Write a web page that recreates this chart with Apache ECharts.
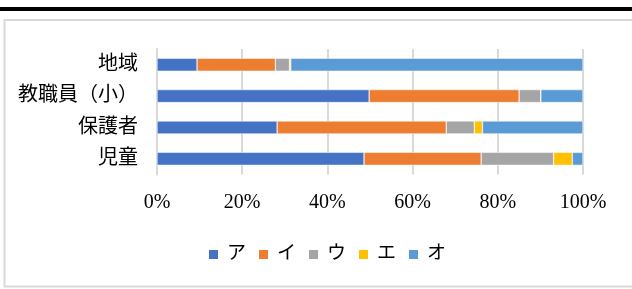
<!DOCTYPE html>
<html><head><meta charset="utf-8">
<script src="https://cdn.jsdelivr.net/npm/echarts@6/dist/echarts.min.js"></script>
<style>html,body{margin:0;padding:0;background:#fff}#c{width:632px;height:289px}</style>
</head><body><div id="c"></div>
<script>
var categories = ['児童', '保護者', '教職員（小）', '地域'];
var seriesNames = ['ア', 'イ', 'ウ', 'エ', 'オ'];
var valA = [48.6, 28.2, 49.8, 9.4];
var valI = [27.5, 39.7, 35.2, 18.4];
var valU = [17.0, 6.6, 5.1, 3.3];
var valE = [4.4, 1.9, 0.0, 0.3];
var valO = [2.5, 23.6, 9.9, 68.6];
var colors = ['#4472C4', '#ED7D31', '#A5A5A5', '#FFC000', '#5B9BD5'];
var xTicks = [0, 20, 40, 60, 80, 100];

var font = '"Liberation Serif", "Noto Sans CJK JP", serif';
var values = [valA, valI, valU, valE, valO];
var chart = echarts.init(document.getElementById('c'), null, {renderer: 'canvas'});
chart.setOption({
  animation: false,
  backgroundColor: '#fff',
  graphic: [
    {type: 'rect', shape: {x: 0, y: 7, width: 632, height: 4}, style: {fill: '#000'}, silent: true},
    {type: 'rect', shape: {x: 4.5, y: 20, width: 640, height: 266.5}, style: {fill: 'none', stroke: '#d9d9d9', lineWidth: 2}, silent: true}
  ],
  grid: {left: 157, right: 49, top: 49, bottom: 114.5, containLabel: false},
  xAxis: {
    type: 'value', min: xTicks[0], max: xTicks[xTicks.length - 1], interval: 20,
    axisLine: {show: false}, axisTick: {show: false},
    splitLine: {show: true, lineStyle: {color: '#d9d9d9', width: 2}},
    axisLabel: {formatter: function (v) { return v + '%'; }, fontFamily: font, fontSize: 20, color: '#000', margin: 18}
  },
  yAxis: {
    type: 'category', data: categories,
    axisLine: {show: true, lineStyle: {color: '#d9d9d9', width: 2}}, axisTick: {show: false},
    axisLabel: {fontFamily: font, fontSize: 20, color: '#000', margin: 19}
  },
  legend: {
    data: seriesNames, bottom: 25, left: 207, padding: 0, itemWidth: 11, itemHeight: 11, itemGap: 11,
    icon: 'rect', textStyle: {fontFamily: font, fontSize: 19, color: '#000', padding: [0, 0, 0, 3]}
  },
  series: seriesNames.map(function (n, i) {
    return {
      name: n, type: 'bar', stack: 'total', barWidth: 13,
      data: values[i],
      itemStyle: {color: colors[i], borderColor: '#fff', borderWidth: 0.5}
    };
  })
});
</script></body></html>
